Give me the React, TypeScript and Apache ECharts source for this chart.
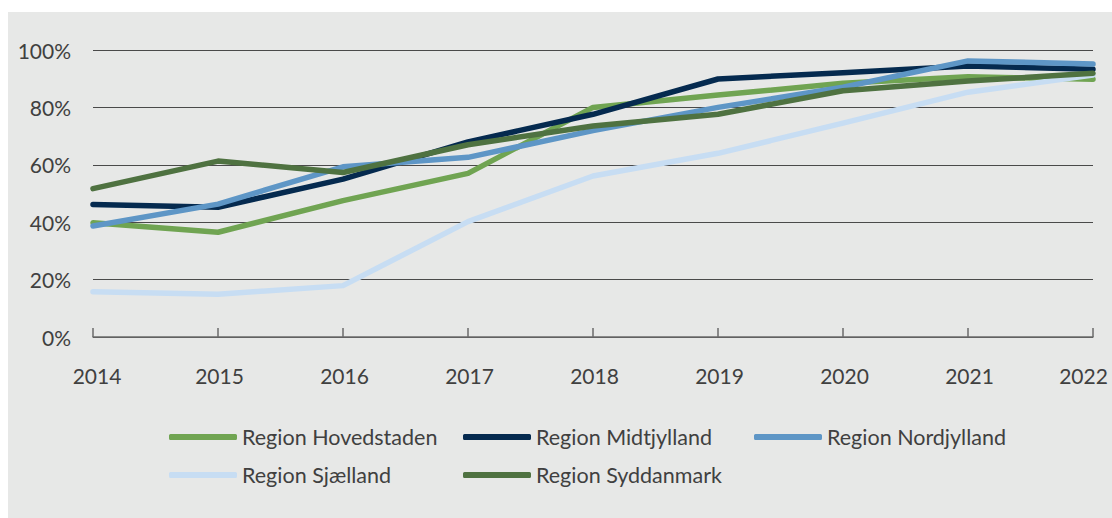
import React, { useEffect, useRef } from "react";
import * as echarts from "echarts";

const years = ["2014", "2015", "2016", "2017", "2018", "2019", "2020", "2021", "2022"];
const hovedstaden = [39.8, 36.5, 47.5, 57.0, 80.0, 84.3, 88.4, 90.7, 89.8];
const midtjylland = [46.2, 45.2, 55.0, 68.0, 77.6, 89.9, 92.1, 94.4, 93.3];
const nordjylland = [38.7, 46.3, 59.3, 62.6, 71.9, 80.0, 87.0, 96.2, 95.1];
const sjaelland = [15.8, 14.9, 17.9, 40.2, 56.1, 64.0, 74.5, 85.3, 91.3];
const syddanmark = [51.7, 61.3, 57.3, 67.0, 73.5, 77.6, 85.8, 89.2, 91.9];

const seriesDefs = [
  { name: "Region Hovedstaden", data: hovedstaden, color: "#70a452" },
  { name: "Region Midtjylland", data: midtjylland, color: "#052a4f" },
  { name: "Region Nordjylland", data: nordjylland, color: "#5e96c6" },
  { name: "Region Sjælland", data: sjaelland, color: "#c7ddf3" },
  { name: "Region Syddanmark", data: syddanmark, color: "#4f7241" },
];

const legendPos = [
  { left: 161, top: 414 },
  { left: 455, top: 414 },
  { left: 746, top: 414 },
  { left: 161, top: 452 },
  { left: 455, top: 452 },
];

export default function App() {
  const ref = useRef<HTMLDivElement>(null);
  useEffect(() => {
    if (!ref.current) return;
    const chart = echarts.init(ref.current, null, { renderer: "svg" });
    const font = "Lato, 'DejaVu Sans', sans-serif";
    const last = years.length - 1;
    const xData = years.map((y, i) => {
      if (i === 0) return { value: y, textStyle: { padding: [0, 0, 0, 8] } };
      if (i === last) return { value: y, textStyle: { padding: [0, 19, 0, 0] } };
      return { value: y, textStyle: { padding: [0, 0, 0, 3] } };
    });
    chart.setOption({
      animation: false,
      backgroundColor: "#e7e8e7",
      textStyle: { fontFamily: font },
      grid: { left: 85, right: 19, top: 38, bottom: 181, containLabel: false },
      legend: seriesDefs.map((s, i) => ({
        data: [s.name],
        left: legendPos[i].left,
        top: legendPos[i].top,
        padding: 0,
        itemWidth: 68,
        itemHeight: 6,
        icon: "roundRect",
        selectedMode: false,
        textStyle: { fontSize: 21.5, color: "#404040", fontFamily: font },
      })),
      xAxis: {
        type: "category",
        data: xData,
        boundaryGap: false,
        axisLine: { show: true, lineStyle: { color: "#6b6b6b", width: 1.5 } },
        axisTick: { show: true, inside: true, length: 9, alignWithLabel: true, lineStyle: { color: "#6b6b6b", width: 1.5 } },
        axisLabel: { fontSize: 21, color: "#404040", margin: 28, fontFamily: font },
        splitLine: { show: false },
      },
      yAxis: {
        type: "value",
        min: 0,
        max: 100,
        interval: 20,
        axisLine: { show: false },
        axisTick: { show: false },
        axisLabel: { fontSize: 21, color: "#404040", margin: 22, formatter: "{value}%", fontFamily: font },
        splitLine: { show: true, lineStyle: { color: "#4a4a4a", width: 1 } },
      },
      series: seriesDefs.map((s) => ({
        name: s.name,
        type: "line",
        data: s.data,
        symbol: "none",
        showSymbol: false,
        color: s.color,
        lineStyle: { color: s.color, width: 5.5, cap: "round", join: "round" },
        itemStyle: { color: s.color },
      })),
    });
    return () => chart.dispose();
  }, []);
  return (
    <div
      ref={ref}
      style={{ position: "fixed", left: 8, top: 12, width: 1104, height: 506 }}
    />
  );
}
